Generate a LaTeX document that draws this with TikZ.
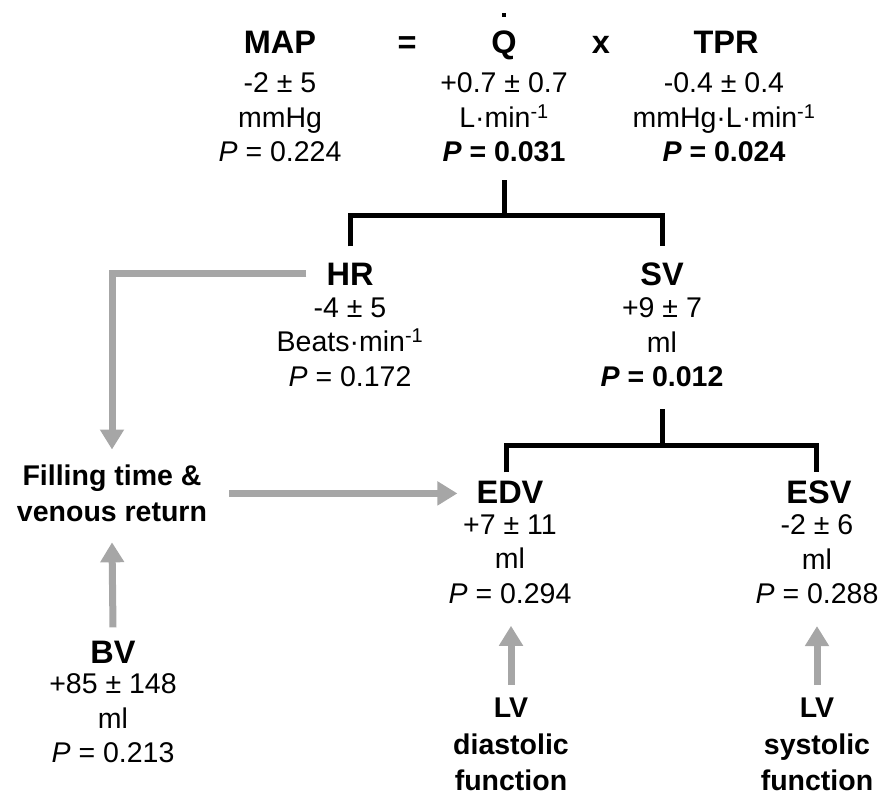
\documentclass[tikz,border=0pt]{standalone}
\usepackage{fontspec}
\setmainfont{Liberation Sans}
\usepackage{tikz}
\usetikzlibrary{calc, arrows.meta}
\tikzset{>=latex}
\definecolor{mygray}{RGB}{166, 166, 166}

\begin{document}
\begin{tikzpicture}[x = 1pt, y = -1pt,
  head/.style = {anchor = base, inner sep = 0pt, font = \fontsize{32.5}{39}\selectfont\bfseries},
  vals/.style = {anchor = north, inner sep = 0pt, align = center, font = \fontsize{28.5}{34.5}\selectfont},
  lbl/.style = {anchor = north, inner sep = 0pt, align = center, font = \fontsize{28.5}{36.5}\selectfont\bfseries},
  bracket/.style = {line width = 5pt},
  flow/.style = {draw = mygray, line width = 7pt, -{Triangle[length = 20pt, width = 23pt]}}]
\useasboundingbox (0, 0) rectangle (882, 796);
% top equation
\node[head] (map) at (280, 53) {MAP};
\node[head] (eq) at (407, 53) {=};
\node[head] (q) at (504, 53) {Q};
\node[head] (times) at (601, 53) {x};
\node[head] (tpr) at (726, 53) {TPR};
\fill ([shift = {(-2.3pt, 13pt)}]q.north) rectangle ++(4.6pt, 4.6pt);
\node[vals] (mapv) at (280, 72.5) {-2 ± 5\\mmHg\\\textit{P} = 0.224};
\node[vals] (qv) at (504, 72.5) {+0.7 ± 0.7\\L·min\textsuperscript{-1}\\\textbf{\textit{P} = 0.031}};
\node[vals] (tprv) at (724, 72.5) {-0.4 ± 0.4\\mmHg·L·min\textsuperscript{-1}\\\textbf{\textit{P} = 0.024}};
% second level
\node[head] (hr) at (350, 285) {HR};
\node[head] (sv) at (662, 285) {SV};
\node[vals] (hrv) at (350, 297.5) {-4 ± 5\\Beats·min\textsuperscript{-1}\\\textit{P} = 0.172};
\node[vals] (svv) at (662, 297.5) {+9 ± 7\\ml\\\textbf{\textit{P} = 0.012}};
% third level
\node[head] (edv) at (510, 503) {EDV};
\node[head] (esv) at (819, 503) {ESV};
\node[vals] (edvv) at (510, 514.5) {+7 ± 11\\ml\\\textit{P} = 0.294};
\node[vals] (esvv) at (817, 514.5) {-2 ± 6\\ml\\\textit{P} = 0.288};
\node[lbl] (fill) at (112, 464.5) {Filling time \&\\venous return};
\node[head] (bv) at (113, 663) {BV};
\node[vals] (bvv) at (113, 673.5) {+85 ± 148\\ml\\\textit{P} = 0.213};
\node[lbl] (lvd) at (511, 698) {LV\\diastolic\\function};
\node[lbl] (lvs) at (817, 698) {LV\\systolic\\function};
% brackets
\draw[bracket] ([yshift = -18pt]qv.south) -- ++(0, 35) coordinate (qj);
\draw[bracket] ([yshift = 16pt]hr.north) |- (qj) -| ([yshift = 16pt]sv.north);
\draw[bracket] ([yshift = -22pt]svv.south) -- ++(0, 36) coordinate (sj);
\draw[bracket] ([shift = {(-4pt, 8pt)}]edv.north) |- (sj) -| ([shift = {(-3pt, 8pt)}]esv.north);
% influences
\draw[flow] ([xshift = -20pt]hr.west) -| ([yshift = 15pt]fill.north);
\draw[flow] ([xshift = 22pt]fill.east) -- ([xshift = -19pt]edv.west |- fill.east);
\draw[flow] ([yshift = 13pt]bv.north) -- ([yshift = -20pt]fill.south);
\draw[flow] ([yshift = 13pt]lvd.north) -- ([yshift = -22pt]lvd.north |- edvv.south);
\draw[flow] ([yshift = 13pt]lvs.north) -- ([yshift = -22pt]lvs.north |- esvv.south);
\end{tikzpicture}
\end{document}
